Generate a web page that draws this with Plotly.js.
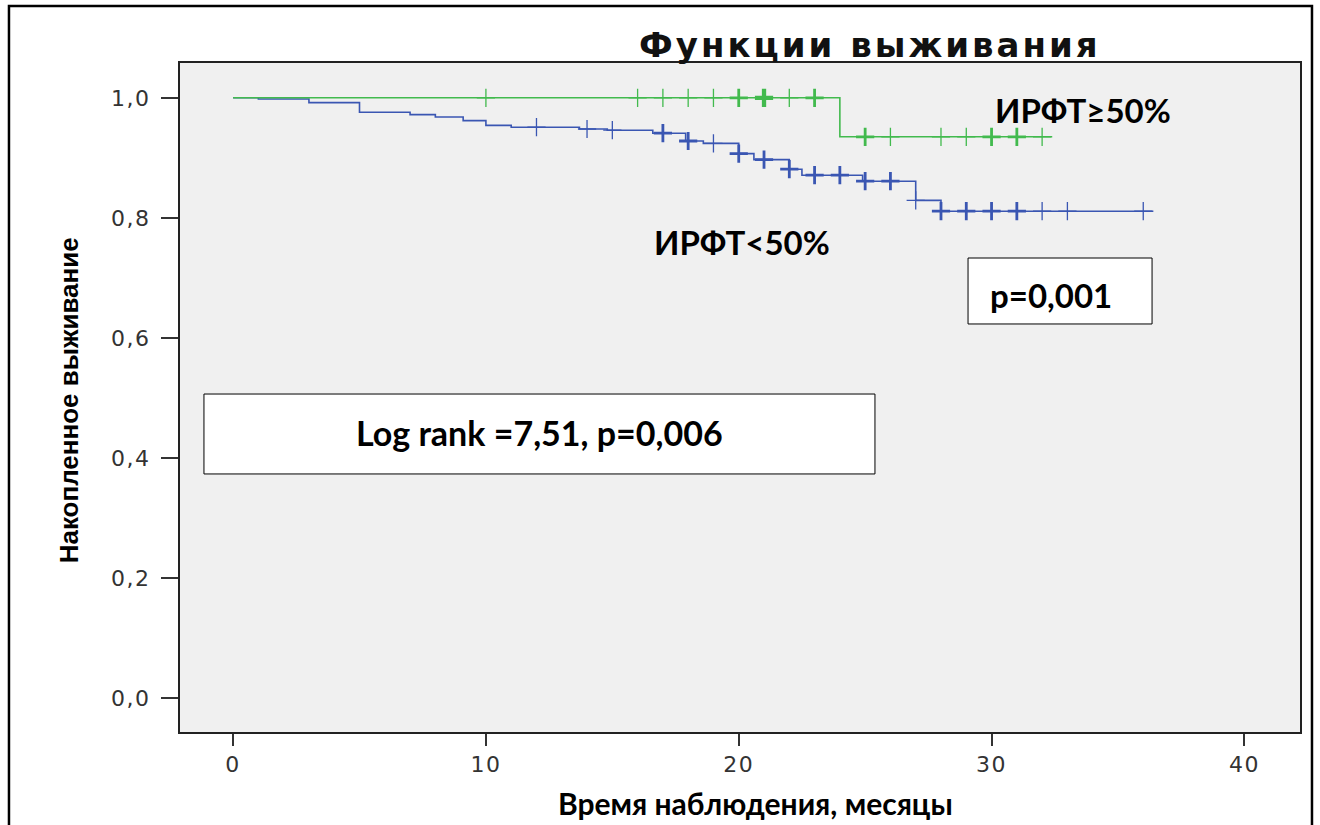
<!DOCTYPE html>
<html>
<head>
<meta charset="utf-8">
<script src="https://cdn.plot.ly/plotly-3.0.1.min.js"></script>
<style>
  html, body { margin: 0; padding: 0; background: #ffffff; }
  #chart { width: 1320px; height: 825px; }
  .gtitle { letter-spacing: 3px; }
  .xtick text, .ytick text { letter-spacing: 1.5px; }
</style>
</head>
<body>
<div id="chart"></div>
<script>
// ---- Data ----
// Group ИРФТ≥50% (green)
var highStepTimes = [0, 24];
var highSurv      = [1.0, 0.935];
var highEndTime   = 32.4;
var highCensorTimes  = [10, 16, 17, 18, 19, 20, 21, 22, 23, 25, 26, 28, 29, 30, 31, 32];
var highCensorCounts = [1, 1, 1, 1, 1, 2, 3, 1, 2, 2, 1, 1, 1, 2, 2, 1];

// Group ИРФТ<50% (blue)
var lowStepTimes = [0, 1, 3, 5, 7, 8, 9.1, 10, 11, 13.7, 14.8, 16.6, 17.9, 18.6, 20, 20.6, 22, 22.5, 24.9, 27, 28];
var lowSurv      = [1.0, 0.998, 0.992, 0.976, 0.972, 0.968, 0.962, 0.954, 0.951, 0.948, 0.946, 0.941, 0.928, 0.924, 0.907, 0.897, 0.881, 0.871, 0.861, 0.829, 0.811];
var lowEndTime   = 36.4;
var lowCensorTimes  = [12, 14, 15, 17, 18, 19, 20, 21, 22, 23, 24, 25, 26, 27, 28, 29, 30, 31, 32, 33, 36];
var lowCensorCounts = [1, 1, 1, 2, 2, 1, 2, 2, 2, 2, 2, 2, 2, 1, 2, 2, 2, 2, 1, 1, 1];

var yTickVals = [0, 0.2, 0.4, 0.6, 0.8, 1.0];
var yTickText = ['0,0', '0,2', '0,4', '0,6', '0,8', '1,0'];
var xTickVals = [0, 10, 20, 30, 40];

var chartTitle = 'Функции выживания';
var yTitle = 'Накопленное выживание';
var xTitle = 'Время наблюдения, месяцы';
var labelHigh = 'ИРФТ≥50%';
var labelLow = 'ИРФТ&lt;50%';
var pText = 'p=0,001';
var logRankText = 'Log rank =7,51, p=0,006';

// ---- Helpers ----
function stepXY(times, surv, endTime) {
  return { x: times.concat([endTime]), y: surv.concat([surv[surv.length - 1]]) };
}
function survAt(times, surv, t) {
  var s = surv[0];
  for (var i = 0; i < times.length; i++) { if (times[i] <= t) s = surv[i]; }
  return s;
}
function censorY(times, surv, ct) {
  return ct.map(function (t) { return survAt(times, surv, t); });
}

var greenCol = 'rgb(66,186,78)';
var blueCol = 'rgb(58,86,178)';

var hs = stepXY(highStepTimes, highSurv, highEndTime);
var ls = stepXY(lowStepTimes, lowSurv, lowEndTime);

var traces = [
  { x: ls.x, y: ls.y, mode: 'lines', line: { shape: 'hv', color: blueCol, width: 1.6 }, hoverinfo: 'skip', showlegend: false },
  { x: lowCensorTimes, y: censorY(lowStepTimes, lowSurv, lowCensorTimes), mode: 'markers',
    marker: { symbol: 'cross-thin', size: 13, color: blueCol,
      line: { color: blueCol, width: lowCensorCounts.map(function (c) { return 1.3 + (c - 1) * 1.5; }) } },
    hoverinfo: 'skip', showlegend: false },
  { x: hs.x, y: hs.y, mode: 'lines', line: { shape: 'hv', color: greenCol, width: 1.6 }, hoverinfo: 'skip', showlegend: false },
  { x: highCensorTimes, y: censorY(highStepTimes, highSurv, highCensorTimes), mode: 'markers',
    marker: { symbol: 'cross-thin', size: 13, color: greenCol,
      line: { color: greenCol, width: highCensorCounts.map(function (c) { return 1.3 + (c - 1) * 1.5; }) } },
    hoverinfo: 'skip', showlegend: false }
];

var calib = 'Lato, "Open Sans", sans-serif';

var layout = {
  width: 1320, height: 825,
  margin: { l: 180, r: 20, t: 63, b: 93 },
  paper_bgcolor: '#ffffff',
  plot_bgcolor: '#f0f0f0',
  showlegend: false,
  title: {
    text: chartTitle, x: 0.659, xanchor: 'center', y: 0.945, yanchor: 'middle',
    font: { family: '"DejaVu Sans", sans-serif', size: 34, weight: 'bold', color: '#111' }
  },
  xaxis: {
    range: [-2.1, 42.2], tickvals: xTickVals, ticks: 'outside', ticklen: 12, tickwidth: 2, tickcolor: '#333',
    showline: true, mirror: true, linecolor: '#222', linewidth: 2, showgrid: false, zeroline: false,
    tickfont: { family: '"DejaVu Sans", sans-serif', size: 22, color: '#333' }
  },
  yaxis: {
    range: [-0.057, 1.058], tickvals: yTickVals, ticktext: yTickText, ticks: 'outside', ticklen: 17, tickwidth: 2, tickcolor: '#333',
    showline: true, mirror: true, linecolor: '#222', linewidth: 2, showgrid: false, zeroline: false,
    ticklabelstandoff: 6,
    tickfont: { family: '"DejaVu Sans", sans-serif', size: 22, color: '#333' }
  },
  shapes: [
    { type: 'rect', xref: 'paper', yref: 'paper', x0: -0.1527, x1: 1.0107, y0: -0.16, y1: 1.0852,
      line: { color: '#000', width: 2.5 }, fillcolor: 'rgba(0,0,0,0)', layer: 'above' },
    { type: 'rect', xref: 'paper', yref: 'paper', x0: 0.0214, x1: 0.6205, y0: 0.3857, y1: 0.5052,
      line: { color: '#000', width: 1 }, fillcolor: '#ffffff', layer: 'above' },
    { type: 'rect', xref: 'paper', yref: 'paper', x0: 0.7036, x1: 0.8679, y0: 0.6099, y1: 0.7085,
      line: { color: '#000', width: 1 }, fillcolor: '#ffffff', layer: 'above' }
  ],
  annotations: [
    { text: yTitle, xref: 'paper', yref: 'paper', x: -0.099, y: 0.496, textangle: -90, showarrow: false,
      xanchor: 'center', yanchor: 'middle',
      font: { family: '"Liberation Sans", Arial, sans-serif', size: 26, weight: 'bold', color: '#000' } },
    { text: xTitle, xref: 'paper', yref: 'paper', x: 0.514, y: -0.106, showarrow: false,
      xanchor: 'center', yanchor: 'middle',
      font: { family: calib, size: 30, weight: 'bold', color: '#000' } },
    { text: labelHigh, xref: 'paper', yref: 'paper', x: 0.806, y: 0.930, showarrow: false,
      xanchor: 'center', yanchor: 'middle',
      font: { family: calib, size: 33, weight: 'bold', color: '#000' } },
    { text: labelLow, xref: 'paper', yref: 'paper', x: 0.502, y: 0.732, showarrow: false,
      xanchor: 'center', yanchor: 'middle',
      font: { family: calib, size: 33, weight: 'bold', color: '#000' } },
    { text: pText, xref: 'paper', yref: 'paper', x: 0.778, y: 0.653, showarrow: false,
      xanchor: 'center', yanchor: 'middle',
      font: { family: calib, size: 33, weight: 'bold', color: '#000' } },
    { text: logRankText, xref: 'paper', yref: 'paper', x: 0.3214, y: 0.4484, showarrow: false,
      xanchor: 'center', yanchor: 'middle',
      font: { family: calib, size: 34, weight: 'bold', color: '#000' } }
  ]
};

Plotly.newPlot('chart', traces, layout, { displayModeBar: false, staticPlot: true });
</script>
</body>
</html>
